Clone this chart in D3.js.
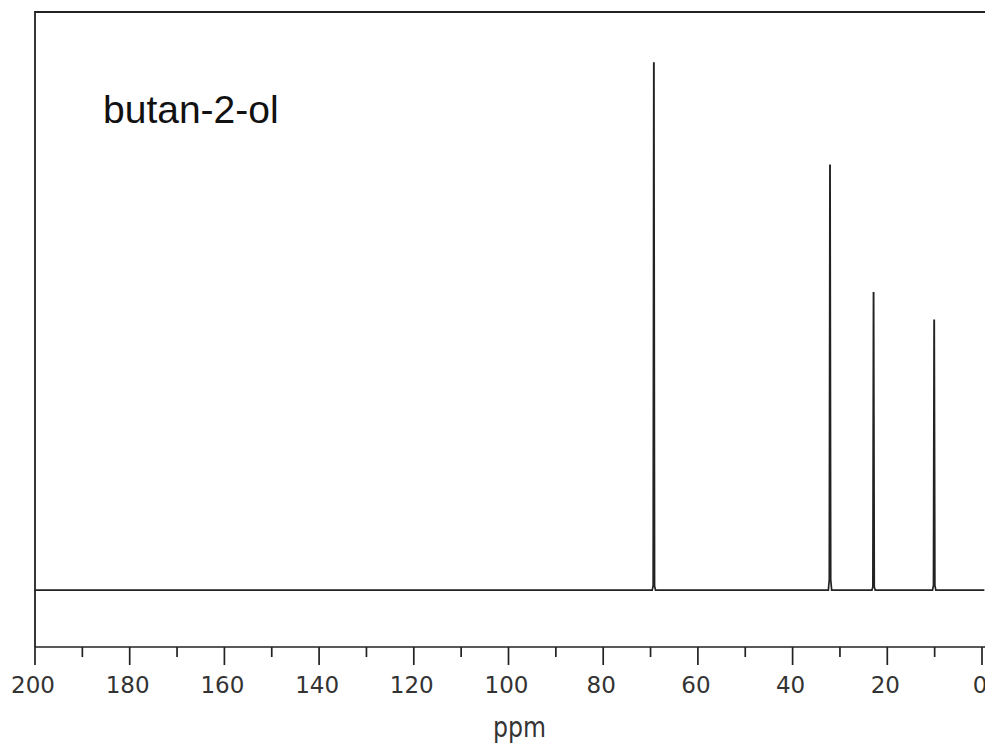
<!DOCTYPE html>
<html>
<head>
<meta charset="utf-8">
<script src="https://cdn.jsdelivr.net/npm/d3@7"></script>
<style>
  body { margin: 0; background: #fff; }
  svg { display: block; }
</style>
</head>
<body>
<svg id="nmr" width="985" height="744"></svg>
<script>
// 13C NMR peaks of butan-2-ol
const peakShifts = [69.3, 32.1, 22.9, 10.1];
const peakHeights = [100, 80.6, 56.4, 51.2];
const shoulderHeights = [0.8, 2.0, 0.6, 0.9];
const majorTicks = [200, 180, 160, 140, 120, 100, 80, 60, 40, 20, 0];
const minorTicks = [190, 170, 150, 130, 110, 90, 70, 50, 30, 10];
const compound = "butan-2-ol";
const axisLabel = "ppm";

const svg = d3.select("#nmr"),
  plotLeft = 35, plotRight = 982, plotTop = 12, axisY = 647,
  ink = "#222";

const x = d3.scaleLinear().domain([200, 0]).range([plotLeft, plotRight]);
const y = d3.scaleLinear().domain([-10.8, 109.7]).range([axisY, plotTop]);

// build spectrum trace: baseline with narrow lines
const pts = [[200, 0]];
peakShifts.forEach((s, i) => {
  pts.push([s + 0.35, 0], [s + 0.15, shoulderHeights[i]], [s + 0.02, peakHeights[i]],
           [s - 0.02, peakHeights[i]], [s - 0.15, shoulderHeights[i]], [s - 0.35, 0]);
});
pts.push([-0.5, 0]);

const line = d3.line().x(d => x(d[0])).y(d => y(d[1]));

svg.append("path")
  .datum(pts)
  .attr("fill", "none")
  .attr("stroke", ink)
  .attr("stroke-width", 1.7)
  .attr("d", line);

// frame: left and top
svg.append("path")
  .attr("fill", "none")
  .attr("stroke", ink)
  .attr("stroke-width", 1.8)
  .attr("d", `M${plotLeft},${axisY}V${plotTop}H985`);

// bottom axis
const axis = svg.append("g").attr("transform", `translate(0,${axisY})`);
axis.append("line")
  .attr("x1", plotLeft).attr("x2", 985)
  .attr("stroke", ink).attr("stroke-width", 1.7);

axis.selectAll(".major")
  .data(majorTicks)
  .join("line")
  .attr("class", "major")
  .attr("x1", d => x(d)).attr("x2", d => x(d))
  .attr("y1", 0).attr("y2", 18)
  .attr("stroke", ink).attr("stroke-width", 1.7);

axis.selectAll(".minor")
  .data(minorTicks)
  .join("line")
  .attr("class", "minor")
  .attr("x1", d => x(d)).attr("x2", d => x(d))
  .attr("y1", 0).attr("y2", 10)
  .attr("stroke", ink).attr("stroke-width", 1.7);

axis.selectAll("text")
  .data(majorTicks)
  .join("text")
  .attr("x", d => x(d) - 2)
  .attr("y", 46)
  .attr("text-anchor", "middle")
  .attr("font-family", "DejaVu Sans, sans-serif")
  .attr("font-size", 23)
  .attr("fill", "#333")
  .text(d => d);

svg.append("text")
  .attr("x", 493)
  .attr("y", 737)
  .attr("font-family", "DejaVu Sans, sans-serif")
  .attr("font-size", 29)
  .attr("textLength", 53)
  .attr("lengthAdjust", "spacingAndGlyphs")
  .attr("fill", "#333")
  .text(axisLabel);

svg.append("text")
  .attr("x", 103)
  .attr("y", 123)
  .attr("font-family", "Liberation Sans, Arial, sans-serif")
  .attr("font-size", 39)
  .attr("fill", "#111")
  .text(compound);
</script>
</body>
</html>
